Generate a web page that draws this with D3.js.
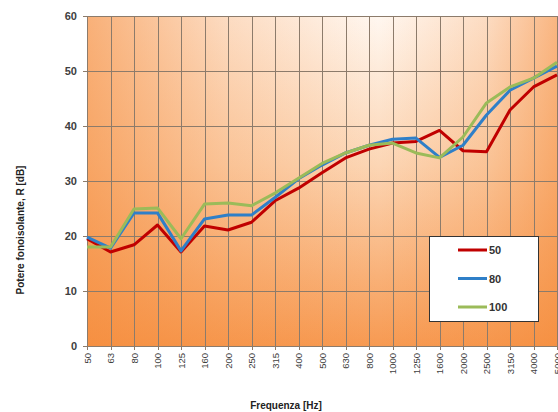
<!DOCTYPE html>
<html>
<head>
<meta charset="utf-8">
<script src="https://d3js.org/d3.v7.min.js"></script>
<title>Potere fonoisolante</title>
<style>
body { margin: 0; background: #fff; }
text { font-family: "Liberation Sans", Arial, sans-serif; }
</style>
</head>
<body>
<script>

var freqs = ["50","63","80","100","125","160","200","250","315","400","500","630",
             "800","1000","1250","1600","2000","2500","3150","4000","5000"];
var r50  = [19.5,17.1,18.4,22.0,17.1,21.8,21.1,22.5,26.4,28.7,31.5,34.2,35.8,36.9,37.2,39.2,35.5,35.3,42.9,47.1,49.3];
var r80  = [19.8,17.8,24.2,24.2,17.3,23.1,23.8,23.8,27.0,30.4,32.9,35.1,36.5,37.6,37.8,34.3,36.5,42.0,46.5,48.7,50.9];
var r100 = [18.0,18.0,24.9,25.1,19.5,25.8,26.0,25.5,27.8,30.5,33.2,35.1,36.5,36.9,35.1,34.2,38.0,44.2,47.1,48.7,51.6];
var seriesNames = ["50", "80", "100"];
var yTicks = [0, 10, 20, 30, 40, 50, 60];

var width = 558,
    height = 412;
var margin = {top: 16, right: 1, bottom: 66, left: 87};

var svg = d3.select( "body" )
  .append( "svg" )
  .attr( "width", width )
  .attr( "height", height );

// sfondo: verticale chiaro->arancio + bordi laterali arancio
var defs = svg.append( "defs" );
var gv = defs.append( "linearGradient" )
  .attr( "id", "bgv" )
  .attr( "x1", 0 ).attr( "y1", 0 ).attr( "x2", 0 ).attr( "y2", 1 );
gv.append( "stop" ).attr( "offset", 0 ).attr( "stop-color", "#fff7f0" );
gv.append( "stop" ).attr( "offset", 0.45 ).attr( "stop-color", "#fcd6b5" );
gv.append( "stop" ).attr( "offset", 1 ).attr( "stop-color", "#f79a52" );

var gh = defs.append( "linearGradient" )
  .attr( "id", "bgh" )
  .attr( "x1", 0 ).attr( "y1", 0 ).attr( "x2", 1 ).attr( "y2", 0 );
gh.append( "stop" ).attr( "offset", 0 ).attr( "stop-color", "#f58a38" ).attr( "stop-opacity", 0.65 );
gh.append( "stop" ).attr( "offset", 0.3 ).attr( "stop-color", "#f58a38" ).attr( "stop-opacity", 0.25 );
gh.append( "stop" ).attr( "offset", 0.62 ).attr( "stop-color", "#f58a38" ).attr( "stop-opacity", 0 );
gh.append( "stop" ).attr( "offset", 0.85 ).attr( "stop-color", "#f58a38" ).attr( "stop-opacity", 0.25 );
gh.append( "stop" ).attr( "offset", 1 ).attr( "stop-color", "#f58a38" ).attr( "stop-opacity", 0.6 );

var x = d3.scalePoint()
  .domain( freqs )
  .range( [margin.left, width - margin.right] );

var y = d3.scaleLinear()
  .domain( [0, 60] )
  .range( [height - margin.bottom, margin.top] );

["url(#bgv)", "url(#bgh)"].forEach(function(f) {
  svg.append( "rect" )
    .attr( "x", margin.left )
    .attr( "y", margin.top )
    .attr( "width", width - margin.right - margin.left )
    .attr( "height", height - margin.bottom - margin.top )
    .attr( "fill", f );
});

// griglia
var grid = svg.append( "g" ).attr( "stroke", "#8c7b6b" ).attr( "stroke-width", 1 );
grid.selectAll( ".hg" )
  .data( yTicks )
  .enter()
  .append( "line" )
  .attr( "x1", margin.left - 4 )
  .attr( "x2", width - margin.right )
  .attr( "y1", function(d) { return Math.round(y(d)) + 0.5; } )
  .attr( "y2", function(d) { return Math.round(y(d)) + 0.5; } );
grid.selectAll( ".vg" )
  .data( freqs )
  .enter()
  .append( "line" )
  .attr( "x1", function(d) { return Math.round(x(d)) + 0.5; } )
  .attr( "x2", function(d) { return Math.round(x(d)) + 0.5; } )
  .attr( "y1", margin.top )
  .attr( "y2", height - margin.bottom + 4 );

// etichette asse y
svg.selectAll( ".yt" )
  .data( yTicks )
  .enter()
  .append( "text" )
  .attr( "x", margin.left - 10 )
  .attr( "y", function(d) { return y(d) + 4; } )
  .attr( "text-anchor", "end" )
  .attr( "font-size", 11 )
  .attr( "font-weight", "bold" )
  .attr( "fill", "#404040" )
  .text( function(d) { return d; } );

// etichette asse x
svg.selectAll( ".xt" )
  .data( freqs )
  .enter()
  .append( "text" )
  .attr( "transform", function(d) {
    return "translate(" + (x(d) + 3.5) + "," + (height - margin.bottom + 7) + ") rotate(-90)";
  })
  .attr( "text-anchor", "end" )
  .attr( "font-size", 9.5 )
  .attr( "fill", "#404040" )
  .text( function(d) { return d; } );

svg.append( "text" )
  .attr( "x", 286 )
  .attr( "y", 409 )
  .attr( "text-anchor", "middle" )
  .attr( "font-size", 10 )
  .attr( "font-weight", "bold" )
  .attr( "fill", "#222" )
  .text( "Frequenza [Hz]" );

svg.append( "text" )
  .attr( "transform", "translate(24,230) rotate(-90)" )
  .attr( "text-anchor", "middle" )
  .attr( "font-size", 10 )
  .attr( "font-weight", "bold" )
  .attr( "fill", "#222" )
  .text( "Potere fonoisolante, R [dB]" );

// linee
var series = [
  { name: seriesNames[0], values: r50,  color: "#c00000" },
  { name: seriesNames[1], values: r80,  color: "#2f7fc8" },
  { name: seriesNames[2], values: r100, color: "#9bbb59" }
];

var line = d3.line()
  .x( function(d, i) { return x(freqs[i]); } )
  .y( function(d) { return y(d); } );

svg.selectAll( ".serie" )
  .data( series )
  .enter()
  .append( "path" )
  .attr( "fill", "none" )
  .attr( "stroke", function(d) { return d.color; } )
  .attr( "stroke-width", 3 )
  .attr( "stroke-linejoin", "round" )
  .attr( "d", function(d) { return line(d.values); } );

// legenda
var leg = svg.append( "g" ).attr( "transform", "translate(429,236)" );
leg.append( "rect" )
  .attr( "x", 0.5 ).attr( "y", 0.5 )
  .attr( "width", 109 ).attr( "height", 85 )
  .attr( "fill", "#fff" )
  .attr( "stroke", "#333" );
var item = leg.selectAll( ".it" )
  .data( series )
  .enter()
  .append( "g" )
  .attr( "transform", function(d, i) { return "translate(0," + (14 + i * 28.5) + ")"; } );
item.append( "line" )
  .attr( "x1", 29 ).attr( "x2", 58 )
  .attr( "stroke", function(d) { return d.color; } )
  .attr( "stroke-width", 3 );
item.append( "text" )
  .attr( "x", 60 )
  .attr( "y", 4 )
  .attr( "font-size", 11 )
  .attr( "font-weight", "bold" )
  .attr( "fill", "#333" )
  .text( function(d) { return d.name; } );

</script>
</body>
</html>
